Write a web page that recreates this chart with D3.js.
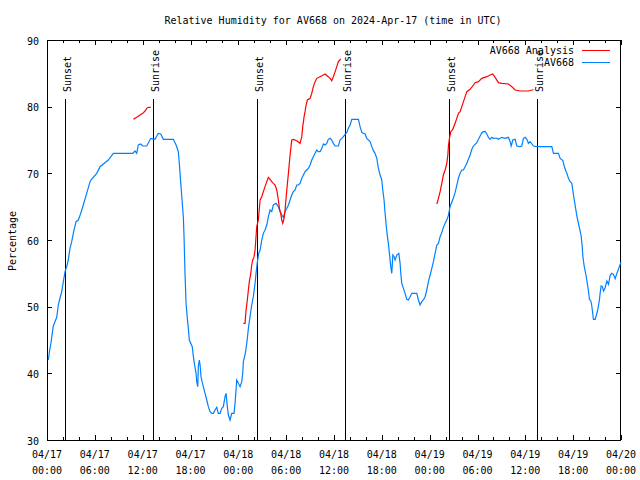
<!DOCTYPE html>
<html><head><meta charset="utf-8">
<script src="https://cdn.jsdelivr.net/npm/d3@7"></script>
<style>body{margin:0;background:#fff}svg{display:block}text{font-family:"DejaVu Sans Mono",monospace;font-size:10px;fill:#000}</style>
</head><body>
<svg id="c" width="640" height="480"></svg>
<script>
// hours since 2024-04-17 00:00 UTC, relative humidity %
const obsHours = [0.16,0.34,0.5,0.79,1.0,1.22,1.42,1.63,1.84,2.05,2.26,2.47,2.67,2.89,3.1,3.3,3.64,3.93,4.23,4.55,4.98,5.4,5.61,6.24,6.65,7.69,8.32,10.75,11.04,11.25,11.46,11.76,12.01,12.51,13.01,13.55,13.96,14.27,14.59,15.85,16.19,16.47,16.6,16.78,16.94,17.1,17.19,17.31,17.44,17.6,17.73,17.85,18.22,18.36,18.48,18.7,18.78,18.91,18.98,19.11,19.2,19.32,19.45,19.61,19.82,20.04,20.24,20.45,20.67,20.87,21.08,21.29,21.49,21.71,21.92,22.12,22.33,22.46,22.62,22.75,22.96,23.17,23.46,23.59,23.71,23.8,24.0,24.22,24.43,24.55,24.63,24.84,24.97,25.13,25.26,25.47,25.68,25.88,26.1,26.22,26.39,26.56,26.73,26.94,27.14,27.35,27.57,27.77,27.98,28.19,28.39,28.73,29.02,29.23,29.45,29.65,29.86,30.08,30.28,30.49,30.7,30.9,31.12,31.33,31.53,31.74,31.96,32.16,32.37,32.58,32.79,33.0,33.21,33.41,33.63,33.84,34.04,34.25,34.47,34.67,34.88,35.09,35.29,35.51,35.72,35.92,36.14,36.55,36.76,36.98,37.18,37.39,37.6,37.8,38.02,38.23,39.06,39.27,39.49,39.9,40.11,40.53,40.74,40.94,41.15,41.37,41.57,41.78,41.99,42.12,42.28,42.41,42.53,42.7,42.82,42.95,43.12,43.25,43.38,43.54,43.66,43.88,44.13,44.29,44.38,44.5,44.71,44.92,45.13,45.33,45.55,45.76,46.39,46.59,46.8,47.01,47.21,47.43,47.64,47.84,48.06,48.27,48.47,48.68,48.9,49.1,49.31,49.52,49.72,49.94,50.15,50.35,50.56,50.78,50.98,51.19,51.4,51.61,51.82,52.03,52.24,52.45,52.66,52.86,53.07,53.29,53.49,53.91,54.12,54.33,54.54,54.74,54.96,55.17,55.37,55.58,55.8,56.0,56.42,56.63,57.05,57.47,57.88,58.09,58.22,58.43,58.72,58.93,59.35,59.56,59.76,59.97,60.19,60.39,60.6,61.02,61.44,63.32,63.53,64.15,64.37,64.71,64.87,65.12,65.21,65.41,65.62,65.83,66.04,66.25,66.46,66.66,66.88,67.0,67.13,67.21,67.38,67.5,67.63,67.79,67.92,68.04,68.22,68.34,68.47,68.54,68.76,68.88,69.05,69.17,69.3,69.39,69.51,69.67,69.8,70.01,70.23,70.43,70.64,70.85,71.05,71.27,71.48,71.68,71.89,72.0];
const obsValues = [42.0,43.5,44.6,47.1,47.75,48.4,50.25,51.3,52.2,53.75,55.25,56,57,58.8,59.75,61,62.75,63,64,65.25,67,68.75,69.15,70,71,72,73,73,73.35,73,74.25,74.4,74.1,74.1,75.25,75.1,76,75.9,75.1,75.1,74.25,73.25,71.5,68.5,66,63.5,60.5,55,50.5,48.25,46.75,45,44,42.5,41.5,40,38.75,38,41,42,41.25,39.5,38.75,38,37,36,35,34.25,34,34,34.5,34.9,34,34,34.75,35,36.5,37,35,33.75,33,34,34,35.5,37.5,39,38.5,38,38.75,40,41.75,42.75,43.75,45.25,46.75,48.5,50.25,51.5,53.5,55,56.75,58,58.5,60,61,61.5,62.25,63.5,64.5,64.25,65.25,65.5,65,64.25,63.75,63.4,64.25,64.75,65.25,66,66.75,67.25,67.5,68.25,68.25,68.5,69.25,69.75,70.25,70.5,70.75,71.25,72,72.5,73,73.5,73.25,73.25,73.75,74.4,74.25,74.5,75.1,75.25,75,74.5,74.1,74.1,75,75.25,75.5,75.85,76.1,76.75,77.25,78.1,78.1,77,76.1,75.9,75.25,74.75,74,73.4,73,72.25,70.75,69.75,69,67.5,66,64,62.4,60.5,59.5,58,56,55,57.75,57.5,57,57.75,58,56.5,55,53.5,52.75,52,51.1,51,51.5,52,52,51,50.25,50.75,51,51.5,52.5,53.75,54.75,55.75,56.75,58,59.25,59.5,60.5,61.1,61.9,62.5,63,63.7,65,65.7,66.3,67.1,68.2,69.3,70,70.5,70.5,71,71.5,72.1,72.75,73.6,74.1,74.6,75.1,75.6,76.05,76.25,76.3,75.9,75.4,75.1,75.4,75.25,75.3,75.1,75.4,75.25,75.4,74.75,74.1,75,75.1,74.1,74,74.1,75.25,75.4,75.1,74.5,74.75,74.1,74,74,73,73,72.25,71.9,71.1,70.25,70,69.25,68.75,68.5,66.75,65.2,63.6,62.5,61.3,60.6,59.1,57.6,56.1,55.35,54.6,53.35,52.35,51.1,50.85,50.1,48.85,48.1,48.1,48.6,49.35,50.1,51.1,52.1,53.1,53,52.35,52.85,53.85,53.35,54.7,55,54.85,54.2,55,55.6,56.35,56.7];
// analysis: three separate runs
const anaHours1 = [10.83,11.25,11.67,12.01,12.3,12.51,12.71,13.01];
const anaValues1 = [78.1,78.4,78.75,79,79.35,79.75,79.9,79.9];
const anaHours2 = [24.63,24.84,24.97,25.13,25.26,25.38,25.56,25.68,25.81,25.97,26.1,26.31,26.51,26.73,26.94,27.14,27.35,27.57,27.77,27.98,28.19,28.39,28.61,28.82,29.02,29.15,29.32,29.45,29.57,29.74,29.86,30.08,30.28,30.49,30.7,30.9,31.33,31.74,31.96,32.08,32.25,32.37,32.5,32.66,33.0,33.21,33.41,33.63,33.84,34.25,34.67,34.88,35.17,35.51,35.72,35.92,36.14,36.35,36.55,36.85];
const anaValues2 = [47.5,47.5,49.5,51,52.5,53.75,55,56.25,57,57.5,58.5,62,63,66,66.5,67.25,68,68.75,69.4,69.1,68.75,68.5,68.25,67.5,66,64.75,64,63,62.5,63.25,64.5,67.5,70,72.75,75,75.1,74.9,74.5,75.5,77,78.5,79.25,80.25,81,81.25,82,83,83.75,84.25,84.5,84.75,84.9,84.6,84.25,83.9,84.5,85.25,86,86.75,87.15];
const anaHours3 = [48.9,49.1,49.31,49.52,49.72,49.94,50.15,50.28,50.35,50.48,50.65,50.9,51.19,51.4,51.61,51.82,52.03,52.24,52.66,53.07,53.49,53.7,54.12,54.54,55.17,55.58,55.92,56.21,56.63,57.05,57.88,58.31,58.72,59.35,60.39,60.82,61.02];
const anaValues3 = [65.4,66.25,67.25,68.5,69.75,70.5,71.5,72.75,74,75.25,76.25,76.6,77.5,78.25,79,79.25,80,80.75,82.25,82.6,83.25,83.6,83.75,84.25,84.5,84.75,84.9,84.4,83.6,83.5,83.4,83,82.5,82.35,82.35,82.5,82.5];
const sunLabels = ["Sunset","Sunrise","Sunset","Sunrise","Sunset","Sunrise"];
const sunHours = [2.31,13.35,26.38,37.35,50.4,61.44];
const yTicks = [30,40,50,60,70,80,90];
const xTickHours = [0,6,12,18,24,30,36,42,48,54,60,66,72];

const svg = d3.select("#c");
const t0 = Date.UTC(2024,3,17,0,0);
const toDate = h => new Date(t0 + h*3600000);
const L=47, R=621, T=40, B=440;
const x = d3.scaleUtc().domain([toDate(0), toDate(72)]).range([L,R]);
const y = d3.scaleLinear().domain([30,90]).range([B,T]);

// title
svg.append("text").attr("x",333).attr("y",20).attr("text-anchor","middle").attr("dominant-baseline","central")
  .text("Relative Humidity for AV668 on 2024-Apr-17 (time in UTC)");
// y label
svg.append("text").attr("transform","translate(12,241) rotate(-90)").attr("text-anchor","middle").attr("dominant-baseline","central").text("Percentage");

const g = svg.append("g").attr("shape-rendering","crispEdges");
// minor ticks every 2h, major every 6h, bottom & top
const minor = d3.range(0,73,2);
minor.forEach(h=>{
  const len = h%6===0 ? 5 : 3;
  const xx = Math.round(x(toDate(h)))+0.5;
  g.append("line").attr("x1",xx).attr("x2",xx).attr("y1",B).attr("y2",B-len).attr("stroke","#000");
  g.append("line").attr("x1",xx).attr("x2",xx).attr("y1",T).attr("y2",T+len).attr("stroke","#000");
});
yTicks.forEach(v=>{
  const yy = Math.round(y(v))+0.5;
  g.append("line").attr("x1",L).attr("x2",L+5).attr("y1",yy).attr("y2",yy).attr("stroke","#000");
  g.append("line").attr("x1",R-5).attr("x2",R).attr("y1",yy).attr("y2",yy).attr("stroke","#000");
  svg.append("text").attr("x",L-8).attr("y",y(v)+1).attr("text-anchor","end").attr("dominant-baseline","central").text(v);
});
const fmtD = d3.utcFormat("%m/%d"), fmtT = d3.utcFormat("%H:%M");
xTickHours.forEach(h=>{
  const d = toDate(h);
  svg.append("text").attr("x",x(d)).attr("y",454).attr("text-anchor","middle").attr("dominant-baseline","central").text(fmtD(d));
  svg.append("text").attr("x",x(d)).attr("y",470).attr("text-anchor","middle").attr("dominant-baseline","central").text(fmtT(d));
});
// border
g.append("rect").attr("x",L+0.5).attr("y",T+0.5).attr("width",R-L-1).attr("height",B-T).attr("fill","none").attr("stroke","#000");

// sun lines
sunHours.forEach((h,i)=>{
  const xx = Math.round(x(toDate(h)))+0.5;
  g.append("line").attr("x1",xx).attr("x2",xx).attr("y1",99).attr("y2",B).attr("stroke","#000");
  svg.append("text").attr("transform",`translate(${xx+2},92) rotate(-90)`).attr("text-anchor","start").attr("dominant-baseline","central").text(sunLabels[i]);
});

const line = d3.line().x(d=>x(toDate(d[0]))).y(d=>y(d[1]));
const zip = (a,b)=>a.map((v,i)=>[v,b[i]]);
svg.append("path").datum(zip(obsHours,obsValues)).attr("d",line).attr("fill","none").attr("stroke","#0080ff").attr("stroke-width",1.2);
[[anaHours1,anaValues1],[anaHours2,anaValues2],[anaHours3,anaValues3]].forEach(([h,v])=>{
  svg.append("path").datum(zip(h,v)).attr("d",line).attr("fill","none").attr("stroke","#ff0000").attr("stroke-width",1.2);
});

// legend
svg.append("text").attr("x",574).attr("y",50).attr("text-anchor","end").attr("dominant-baseline","central").text("AV668 Analysis");
g.append("line").attr("x1",582).attr("x2",610).attr("y1",50.5).attr("y2",50.5).attr("stroke","#ff0000");
svg.append("text").attr("x",574).attr("y",62).attr("text-anchor","end").attr("dominant-baseline","central").text("AV668");
g.append("line").attr("x1",582).attr("x2",610).attr("y1",62.5).attr("y2",62.5).attr("stroke","#0080ff");
</script>
</body></html>
